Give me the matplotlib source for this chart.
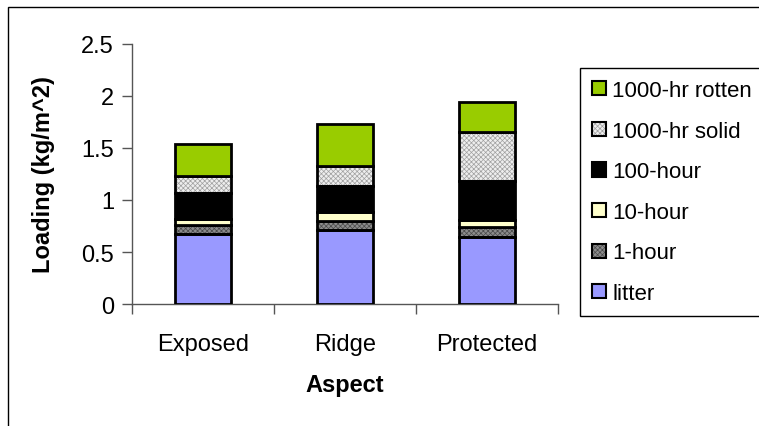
import matplotlib
matplotlib.use("Agg")
import matplotlib.pyplot as plt
from matplotlib.patches import Patch, Rectangle
from matplotlib.legend_handler import HandlerTuple
import numpy as np

plt.rcParams['font.family'] = ['Liberation Sans', 'DejaVu Sans']
plt.rcParams['hatch.linewidth'] = 0.5

# Fuel loading by aspect (kg/m^2), stacked from bottom to top
aspects = ["Exposed", "Ridge", "Protected"]
litter = [0.67, 0.71, 0.64]
one_hour = [0.09, 0.09, 0.10]
ten_hour = [0.06, 0.08, 0.07]
hundred_hour = [0.25, 0.25, 0.37]
thousand_solid = [0.16, 0.20, 0.47]
thousand_rotten = [0.31, 0.40, 0.29]

series = [
    ("litter", litter, "#9999FF", None, None),
    ("1-hour", one_hour, "#8c8c8c", "xxxxxxx", "#4a4a4a"),
    ("10-hour", ten_hour, "#FFFFCC", None, None),
    ("100-hour", hundred_hour, "#000000", None, None),
    ("1000-hr solid", thousand_solid, "#eeeeee", "xxxxxxx", "#a0a0a0"),
    ("1000-hr rotten", thousand_rotten, "#99CC00", None, None),
]

W, H = 759, 427
fig = plt.figure(figsize=(W / 100, H / 100), dpi=100)
ax = fig.add_axes([132 / W, (H - 305) / H, (558 - 132) / W, 260 / H])

x = np.arange(len(aspects))
bottom = np.zeros(len(aspects))
handles = {}
for name, vals, color, hatch, hcolor in series:
    vals = np.array(vals)
    if hatch:
        ax.bar(x, vals, 0.4, bottom=bottom, color=color, hatch=hatch,
               edgecolor=hcolor, linewidth=0, zorder=2)
        ax.bar(x, vals, 0.4, bottom=bottom, fill=False,
               edgecolor="black", linewidth=2, zorder=3)
        h = (Patch(facecolor=color, hatch=hatch, edgecolor=hcolor, linewidth=0),
             Patch(fill=False, edgecolor="black", linewidth=1.5))
    else:
        ax.bar(x, vals, 0.4, bottom=bottom, color=color,
               edgecolor="black", linewidth=2, zorder=3)
        h = Patch(facecolor=color, edgecolor="black", linewidth=1.5)
    handles[name] = h
    bottom += vals

ax.set_xlim(-0.5, 2.5)
ax.set_ylim(0, 2.5)
ax.set_yticks([0, 0.5, 1, 1.5, 2, 2.5])
ax.set_yticklabels(["0", "0.5", "1", "1.5", "2", "2.5"])
ax.set_xticks(x)
ax.set_xticklabels(aspects)
ax.set_xticks([-0.5, 0.5, 1.5, 2.5], minor=True)
ax.tick_params(axis="x", which="major", length=0, pad=21, labelsize=17)
ax.tick_params(axis="x", which="minor", length=7, width=1, color="#555555", direction="out")
ax.tick_params(axis="y", length=7, width=1, color="#555555", direction="out", pad=6, labelsize=17)
for s in ["top", "right"]:
    ax.spines[s].set_visible(False)
for s in ["left", "bottom"]:
    ax.spines[s].set_color("#555555")
    ax.spines[s].set_linewidth(1)

ax.set_xlabel("Aspect", fontsize=17, fontweight="bold")
ax.xaxis.set_label_coords(0.5, -0.265)
ax.set_ylabel("Loading (kg/m^2)", fontsize=17, fontweight="bold")
ax.yaxis.set_label_coords(-0.18, 0.5)

order = ["1000-hr rotten", "1000-hr solid", "100-hour", "10-hour", "1-hour", "litter"]
leg = fig.legend([handles[n] for n in order], order,
                 loc="upper left", bbox_to_anchor=(580 / W, 1 - 69 / H),
                 fontsize=16, frameon=True, fancybox=False,
                 edgecolor="black", framealpha=1,
                 handlelength=0.6, handleheight=0.6, handletextpad=0.3,
                 labelspacing=0.88, borderpad=0.55, borderaxespad=0,
                 handler_map={tuple: HandlerTuple(ndivide=1, pad=0)})
leg.get_frame().set_linewidth(1)

# Outer chart border
fig.patches.append(Rectangle((8 / W, -0.1), 1.2, 1 - 8 / H + 0.1,
                             transform=fig.transFigure, fill=False,
                             edgecolor="black", linewidth=1))

fig.savefig("out.png", dpi=100)
